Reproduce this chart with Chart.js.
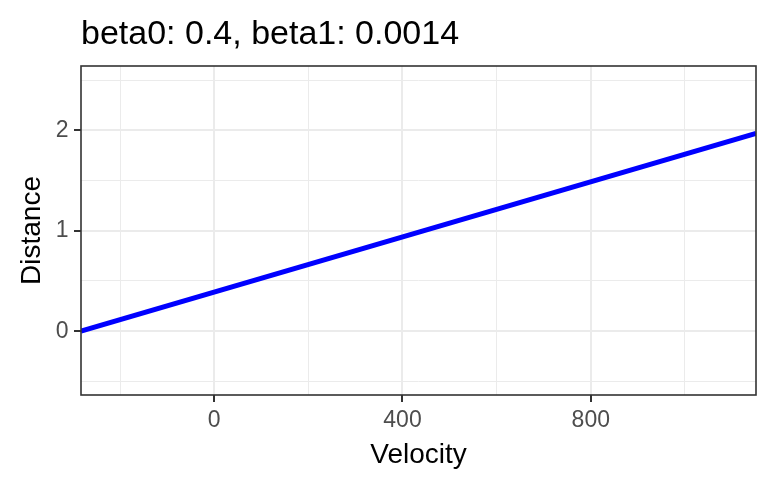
<!DOCTYPE html>
<html>
<head>
<meta charset="utf-8">
<title>Distance vs Velocity</title>
<script src="https://cdn.jsdelivr.net/npm/chart.js@4.4.1/dist/chart.umd.min.js"></script>
<style>
  body { margin: 0; background: #ffffff; }
  canvas { display: block; }
</style>
</head>
<body>
<canvas id="chart" width="769" height="482"></canvas>
<script>
// fitted line, read at the panel edges
const velocity = [-283, 1151]
const distance = [0.0, 1.97]

const titleText = 'beta0: 0.4, beta1: 0.0014'

// axis range and breaks
const xMin = -283
const xMax = 1151
const yMin = -0.635
const yMax = 2.64
const xMajor = [0, 400, 800]
const xMinor = [-200, 200, 600, 1000]
const yMajor = [0, 1, 2]
const yMinor = [-0.5, 0.5, 1.5, 2.5]

const FONT = "'Liberation Sans', Arial, sans-serif"
const GRID = '#ebebeb'
const INK = '#333333'

function isMajor(list, v) {
  return list.some((m) => Math.abs(m - v) < 1e-9)
}

function breaks(major, minor) {
  return major.concat(minor).sort((a, b) => a - b).map((v) => ({ value: v }))
}

// ggplot-style box round the plotting area
const panelBorder = {
  id: 'panelBorder',
  afterDatasetsDraw(chart) {
    const { ctx, chartArea } = chart
    ctx.save()
    ctx.strokeStyle = INK
    ctx.lineWidth = 1.6
    ctx.strokeRect(chartArea.left, chartArea.top, chartArea.right - chartArea.left, chartArea.bottom - chartArea.top)
    ctx.restore()
  },
}

const points = velocity.map((v, i) => ({ x: v, y: distance[i] }))

const ctx = document.getElementById('chart').getContext('2d')
const chart = new Chart(ctx, {
  type: 'line',
  data: {
    datasets: [
      {
        label: 'fit',
        data: points,
        borderColor: '#0000ff',
        borderWidth: 5,
        pointRadius: 0,
        fill: false,
        tension: 0,
      },
    ],
  },
  plugins: [panelBorder],
  options: {
    responsive: false,
    animation: false,
    devicePixelRatio: 1,
    layout: {
      padding: { left: 0, right: 13, top: 0, bottom: 0 },
    },
    plugins: {
      legend: { display: false },
      tooltip: { enabled: false },
      title: {
        display: true,
        text: titleText,
        align: 'start',
        fullSize: false,
        color: '#000000',
        font: { family: FONT, size: 34, weight: 'normal', lineHeight: 1.2 },
        padding: { top: 14, bottom: 11.2 },
      },
    },
    scales: {
      x: {
        type: 'linear',
        min: xMin,
        max: xMax,
        afterBuildTicks: (axis) => {
          axis.ticks = breaks(xMajor, xMinor)
        },
        afterFit: (axis) => {
          axis.height = 87
        },
        border: { display: false },
        grid: {
          color: GRID,
          lineWidth: (c) => (isMajor(xMajor, c.tick.value) ? 2 : 1),
          tickColor: (c) => (isMajor(xMajor, c.tick.value) ? INK : 'rgba(0,0,0,0)'),
          tickWidth: 2,
          tickLength: 7,
        },
        ticks: {
          autoSkip: false,
          maxRotation: 0,
          padding: 5,
          color: '#4d4d4d',
          font: { family: FONT, size: 23 },
          callback: (v) => (isMajor(xMajor, v) ? String(v) : ''),
        },
        title: {
          display: true,
          text: 'Velocity',
          color: '#000000',
          font: { family: FONT, size: 28, lineHeight: 1.2 },
          padding: { top: 10.4, bottom: 10.4 },
        },
      },
      y: {
        type: 'linear',
        min: yMin,
        max: yMax,
        afterBuildTicks: (axis) => {
          axis.ticks = breaks(yMajor, yMinor)
        },
        afterFit: (axis) => {
          axis.width = 81
        },
        border: { display: false },
        grid: {
          color: GRID,
          lineWidth: (c) => (isMajor(yMajor, c.tick.value) ? 2 : 1),
          tickColor: (c) => (isMajor(yMajor, c.tick.value) ? INK : 'rgba(0,0,0,0)'),
          tickWidth: 2,
          tickLength: 7,
        },
        ticks: {
          autoSkip: false,
          padding: 5.5,
          color: '#4d4d4d',
          font: { family: FONT, size: 23 },
          callback: (v) => (isMajor(yMajor, v) ? String(v) : ''),
        },
        title: {
          display: true,
          text: 'Distance',
          color: '#000000',
          font: { family: FONT, size: 28, lineHeight: 1.2 },
          padding: { top: 15.2, bottom: 15.2 },
        },
      },
    },
  },
})
</script>
</body>
</html>
